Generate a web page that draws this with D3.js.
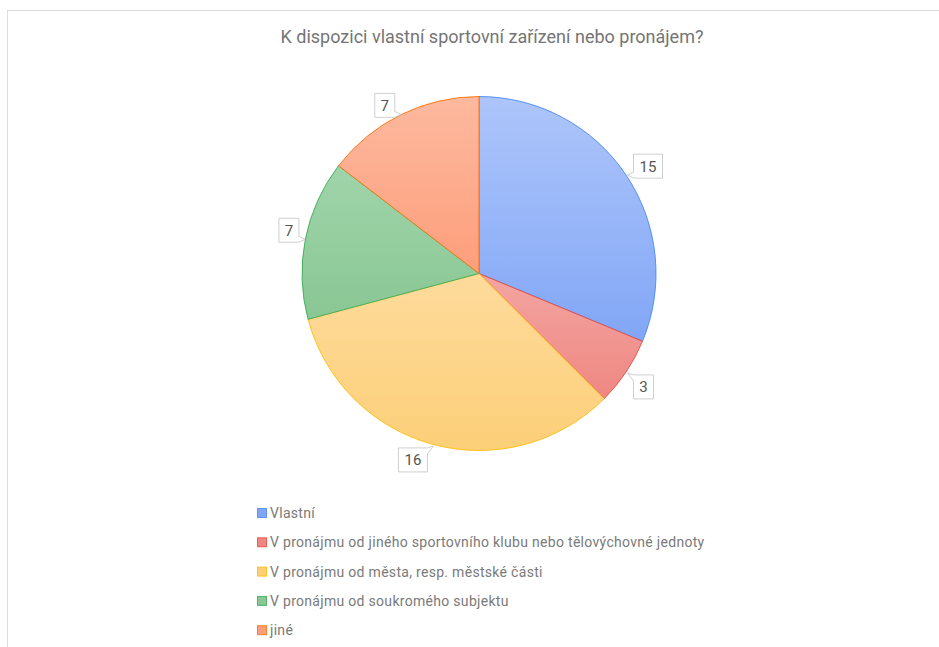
<!DOCTYPE html>
<html>
<head>
<meta charset="utf-8">
<script src="https://cdn.jsdelivr.net/npm/d3@7"></script>
<style>
  body { margin: 0; background: #fff; }
  svg { display: block; font-family: Roboto, "Noto Sans", sans-serif; }
</style>
</head>
<body>
<script>
const width = 939,
  height = 647;

// data
const title = 'K dispozici vlastní sportovní zařízení nebo pronájem?';
const categories = [
  'Vlastní',
  'V pronájmu od jiného sportovního klubu nebo tělovýchovné jednoty',
  'V pronájmu od města, resp. městské části',
  'V pronájmu od soukromého subjektu',
  'jiné'
];
const values = [15, 3, 16, 7, 7];
const colors = ['#4285f4', '#ea4335', '#fbbc04', '#34a853', '#ff6d01'];
// slice gradient (top -> bottom)
const gradTop = ['#adc5fa', '#f3a5a1', '#fedb9c', '#a0d4aa', '#fdb99f'];
const gradBottom = ['#82a6f6', '#ef8782', '#fccf78', '#89c794', '#fd9e7b'];

const cx = 479,
  cy = 273.5,
  r = 177;

const svg = d3
  .select('body')
  .append('svg')
  .attr('width', width)
  .attr('height', height);

// frame
svg
  .append('rect')
  .attr('x', 7.5)
  .attr('y', 10.5)
  .attr('width', 960)
  .attr('height', 700)
  .attr('fill', 'none')
  .attr('stroke', '#dcdcdc');

svg
  .append('text')
  .attr('x', 492)
  .attr('y', 43)
  .attr('text-anchor', 'middle')
  .attr('font-size', 18)
  .attr('fill', '#757575')
  .text(title);

const data = categories.map((c, i) => ({ name: c, value: values[i], color: colors[i] }));

const defs = svg.append('defs');
data.forEach((d, i) => {
  const g = defs
    .append('linearGradient')
    .attr('id', 'grad' + i)
    .attr('x1', 0)
    .attr('y1', 0)
    .attr('x2', 0)
    .attr('y2', 1);
  g.append('stop').attr('offset', '0%').attr('stop-color', gradTop[i]);
  g.append('stop').attr('offset', '100%').attr('stop-color', gradBottom[i]);
});

const pie = d3.pie().sort(null).value(d => d.value);
const arc = d3.arc().innerRadius(0).outerRadius(r);
const arcs = pie(data);

const g = svg.append('g').attr('transform', `translate(${cx},${cy})`);

g.selectAll('path.slice')
  .data(arcs)
  .join('path')
  .attr('class', 'slice')
  .attr('d', arc)
  .attr('fill', (d, i) => `url(#grad${i})`)
  .attr('stroke', d => d.data.color)
  .attr('stroke-opacity', 0.85)
  .attr('stroke-width', 1)
  .attr('stroke-linejoin', 'round');

// callout labels
const labelG = svg.append('g');
arcs.forEach(d => {
  const a = (d.startAngle + d.endAngle) / 2;
  const tx = cx + Math.sin(a) * (r + 1),
    ty = cy - Math.cos(a) * (r + 1);
  const txt = String(d.data.value);
  const w = txt.length > 1 ? 29 : 20,
    h = 24;
  const right = Math.sin(a) > 0,
    top = Math.cos(a) > 0;
  const bx = right ? tx + 6 : tx - 6 - w;
  const by = top ? ty + 3 - h : ty + 2;

  // rectangle with a small pointer on the side facing the slice
  let p;
  const x0 = bx, x1 = bx + w, y0 = by, y1 = by + h;
  if (right) {
    if (top) p = [[x0, y0], [x1, y0], [x1, y1], [x0, y1], [tx, ty], [x0, y1 - 6]];
    else p = [[x0, y0 + 6], [tx, ty], [x0, y0], [x1, y0], [x1, y1], [x0, y1]];
  } else {
    if (top) p = [[x0, y0], [x1, y0], [x1, y1 - 6], [tx, ty], [x1, y1], [x0, y1]];
    else p = [[x0, y0], [x1, y0], [tx, ty], [x1, y0 + 6], [x1, y1], [x0, y1]];
  }
  labelG
    .append('path')
    .attr('d', d3.line()(p) + 'Z')
    .attr('transform', 'translate(0.5,0.5)')
    .attr('fill', '#fff')
    .attr('stroke', '#cfcfcf');
  labelG
    .append('text')
    .attr('x', bx + w / 2 + 0.5)
    .attr('y', by + h / 2 + 6)
    .attr('text-anchor', 'middle')
    .attr('font-size', 15)
    .attr('fill', '#555')
    .text(txt);
});

// legend
const legend = svg
  .append('g')
  .selectAll('g')
  .data(data)
  .join('g')
  .attr('transform', (d, i) => `translate(257,${513 + i * 29.3})`);

legend
  .append('rect')
  .attr('x', 0.5)
  .attr('y', -4.5)
  .attr('width', 9)
  .attr('height', 9)
  .attr('fill', (d, i) => gradBottom[i])
  .attr('stroke', d => d.color)
  .attr('stroke-opacity', 0.8);

legend
  .append('text')
  .attr('x', 13)
  .attr('y', 5)
  .attr('font-size', 14)
  .attr('letter-spacing', 0.3)
  .attr('fill', '#7a7a7a')
  .text(d => d.name);
</script>
</body>
</html>
